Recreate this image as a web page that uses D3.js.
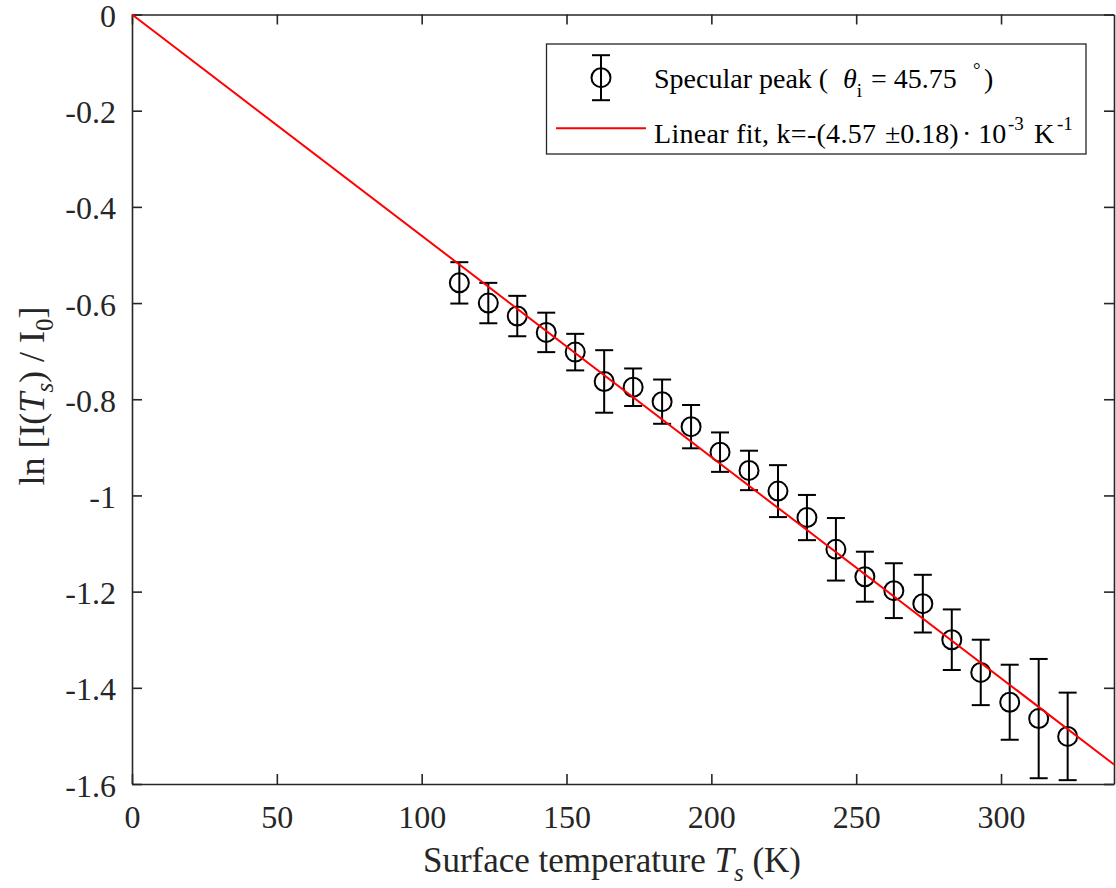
<!DOCTYPE html>
<html>
<head>
<meta charset="utf-8">
<script src="https://d3js.org/d3.v7.min.js"></script>
<style>
  body { margin: 0; background: #ffffff; }
  svg { display: block; }
  text { font-family: "Liberation Serif", "Times New Roman", serif; fill: #262626; }
</style>
</head>
<body>
<script>
// surface temperature of each measurement (K)
var temperature = [113, 123, 133, 143, 153, 163, 173, 183, 193, 203, 213,
                   223, 233, 243, 253, 263, 273, 283, 293, 303, 313, 323];

// ln[I(Ts)/I0] of the specular peak
var lnIntensity = [-0.558, -0.600, -0.627, -0.661, -0.702, -0.763, -0.775, -0.805, -0.857, -0.910, -0.948,
                   -0.991, -1.046, -1.112, -1.169, -1.198, -1.225, -1.300, -1.368, -1.430, -1.464, -1.501];

// half length of the error bars
var errorBar = [0.043, 0.042, 0.042, 0.041, 0.038, 0.065, 0.039, 0.046, 0.045, 0.041, 0.041,
                0.054, 0.047, 0.065, 0.052, 0.057, 0.060, 0.063, 0.068, 0.078, 0.124, 0.091];

// linear fit through the origin
var fitSlope = -4.6e-3;

// axes
var xDomain = [0, 339];
var yDomain = [-1.6, 0];
var xTicks = [0, 50, 100, 150, 200, 250, 300];
var yTicks = [0, -0.2, -0.4, -0.6, -0.8, -1, -1.2, -1.4, -1.6];

var width = 1116;
var height = 888;
var margin = {top: 14.5, right: 2, bottom: 104, left: 132};

var svg = d3.select("body")
    .append("svg")
    .attr("width", width)
    .attr("height", height);

var x = d3.scaleLinear()
    .domain(xDomain)
    .range([margin.left, width - margin.right]);

var y = d3.scaleLinear()
    .domain(yDomain)
    .range([height - margin.bottom, margin.top]);

var axisColor = "#262626";

function styleAxis(g) {
  g.attr("font-family", null);
  g.select(".domain").attr("stroke", axisColor).attr("stroke-width", 1.6);
  g.selectAll(".tick line").attr("stroke", axisColor).attr("stroke-width", 1.6);
  g.selectAll(".tick text")
      .attr("fill", axisColor)
      .style("font-family", "'Liberation Serif', serif")
      .style("font-size", "32px");
}

// bottom axis with labels
svg.append("g")
    .attr("transform", "translate(0," + y(yDomain[0]) + ")")
    .call(d3.axisBottom(x).tickValues(xTicks).tickSizeInner(-10).tickSizeOuter(0).tickFormat(d3.format("d")))
    .call(styleAxis)
    .call(function(g) {
      g.selectAll(".tick text").attr("y", 44).attr("dy", 0);
    });

// top axis, ticks only
svg.append("g")
    .attr("transform", "translate(0," + y(yDomain[1]) + ")")
    .call(d3.axisTop(x).tickValues(xTicks).tickSizeInner(-10).tickSizeOuter(0).tickFormat(""))
    .call(styleAxis);

// left axis with labels
svg.append("g")
    .attr("transform", "translate(" + x(xDomain[0]) + ",0)")
    .call(d3.axisLeft(y).tickValues(yTicks).tickSizeInner(-10).tickSizeOuter(0).tickFormat(function(d) {
      return d3.format("")(d).replace("−", "-");
    }))
    .call(styleAxis)
    .call(function(g) {
      g.selectAll(".tick text").attr("x", -16).attr("dy", 0).attr("y", 12);
    });

// right axis, ticks only
svg.append("g")
    .attr("transform", "translate(" + x(xDomain[1]) + ",0)")
    .call(d3.axisRight(y).tickValues(yTicks).tickSizeInner(-10).tickSizeOuter(0).tickFormat(""))
    .call(styleAxis);

// data points with error bars
var points = temperature.map(function(t, i) {
  return {t: t, v: lnIntensity[i], e: errorBar[i]};
});

var capHalf = 9;

var bars = svg.append("g")
    .attr("stroke", "#000000")
    .attr("stroke-width", 2)
    .attr("fill", "none");

var bar = bars.selectAll("g")
    .data(points)
    .enter()
    .append("g");

bar.append("line")
    .attr("x1", function(d) { return x(d.t); })
    .attr("x2", function(d) { return x(d.t); })
    .attr("y1", function(d) { return y(d.v + d.e); })
    .attr("y2", function(d) { return y(d.v - d.e); });

bar.append("line")
    .attr("x1", function(d) { return x(d.t) - capHalf; })
    .attr("x2", function(d) { return x(d.t) + capHalf; })
    .attr("y1", function(d) { return y(d.v + d.e); })
    .attr("y2", function(d) { return y(d.v + d.e); });

bar.append("line")
    .attr("x1", function(d) { return x(d.t) - capHalf; })
    .attr("x2", function(d) { return x(d.t) + capHalf; })
    .attr("y1", function(d) { return y(d.v - d.e); })
    .attr("y2", function(d) { return y(d.v - d.e); });

bar.append("circle")
    .attr("cx", function(d) { return x(d.t); })
    .attr("cy", function(d) { return y(d.v); })
    .attr("r", 9.5);

// fitted line
var fitLine = d3.line()
    .x(function(d) { return x(d); })
    .y(function(d) { return y(fitSlope * d); });

svg.append("path")
    .datum(xDomain)
    .attr("d", fitLine)
    .attr("stroke", "#ff0000")
    .attr("stroke-width", 2)
    .attr("fill", "none");

// axis titles
var xTitle = svg.append("text")
    .attr("x", 612)
    .attr("y", 872)
    .attr("text-anchor", "middle")
    .style("font-size", "35px");
xTitle.append("tspan").text("Surface temperature ");
xTitle.append("tspan").style("font-style", "italic").text("T");
xTitle.append("tspan").attr("dy", 9).style("font-style", "italic").style("font-size", "25px").text("s");
xTitle.append("tspan").attr("dy", -9).text(" (K)");

var yTitle = svg.append("text")
    .attr("transform", "translate(44," + 396 + ") rotate(-90)")
    .attr("text-anchor", "middle")
    .style("font-size", "36px");
yTitle.append("tspan").text("ln [I(");
yTitle.append("tspan").style("font-style", "italic").text("T");
yTitle.append("tspan").attr("dy", 9).style("font-style", "italic").style("font-size", "25px").text("s");
yTitle.append("tspan").attr("dy", -9).text(") / I");
yTitle.append("tspan").attr("dy", 9).style("font-size", "25px").text("0");
yTitle.append("tspan").attr("dy", -9).text("]");

// legend
var legend = svg.append("g");

legend.append("rect")
    .attr("x", 546.5)
    .attr("y", 44)
    .attr("width", 539.5)
    .attr("height", 110)
    .attr("fill", "#ffffff")
    .attr("stroke", axisColor)
    .attr("stroke-width", 1.3);

var lx = 601, ly = 77.7, lh = 22.5;
legend.append("g")
    .attr("stroke", "#000000")
    .attr("stroke-width", 2)
    .attr("fill", "none")
    .call(function(g) {
      g.append("line").attr("x1", lx).attr("x2", lx).attr("y1", ly - lh).attr("y2", ly + lh);
      g.append("line").attr("x1", lx - capHalf).attr("x2", lx + capHalf).attr("y1", ly - lh).attr("y2", ly - lh);
      g.append("line").attr("x1", lx - capHalf).attr("x2", lx + capHalf).attr("y1", ly + lh).attr("y2", ly + lh);
      g.append("circle").attr("cx", lx).attr("cy", ly).attr("r", 9.5);
    });

legend.append("line")
    .attr("x1", 556)
    .attr("x2", 646)
    .attr("y1", 128.3)
    .attr("y2", 128.3)
    .attr("stroke", "#ff0000")
    .attr("stroke-width", 2);

var entry1 = legend.append("text")
    .attr("y", 87.5)
    .style("font-size", "28px")
    .style("fill", "#000000");
entry1.append("tspan").attr("x", 654).text("Specular peak (");
entry1.append("tspan").attr("x", 843).style("font-style", "italic").text("θ");
entry1.append("tspan").attr("dy", 9).style("font-size", "19px").text("i");
entry1.append("tspan").attr("x", 871).attr("dy", -9).text("= 45.75");
entry1.append("tspan").attr("x", 973).attr("dy", -12).style("font-size", "19px").text("°");
entry1.append("tspan").attr("x", 984).attr("dy", 12).text(")");

var entry2 = legend.append("text")
    .attr("y", 143)
    .style("font-size", "28px")
    .style("fill", "#000000");
entry2.append("tspan").attr("x", 654).attr("textLength", 222).attr("lengthAdjust", "spacing").text("Linear fit, k=-(4.57");
entry2.append("tspan").attr("x", 885).text("±0.18)");
entry2.append("tspan").attr("x", 962).text("· 10");
entry2.append("tspan").attr("x", 1008).attr("dy", -13).style("font-size", "19px").text("-3");
entry2.append("tspan").attr("x", 1034).attr("dy", 13).text("K");
entry2.append("tspan").attr("x", 1057).attr("dy", -13).style("font-size", "19px").text("-1");
</script>
</body>
</html>
